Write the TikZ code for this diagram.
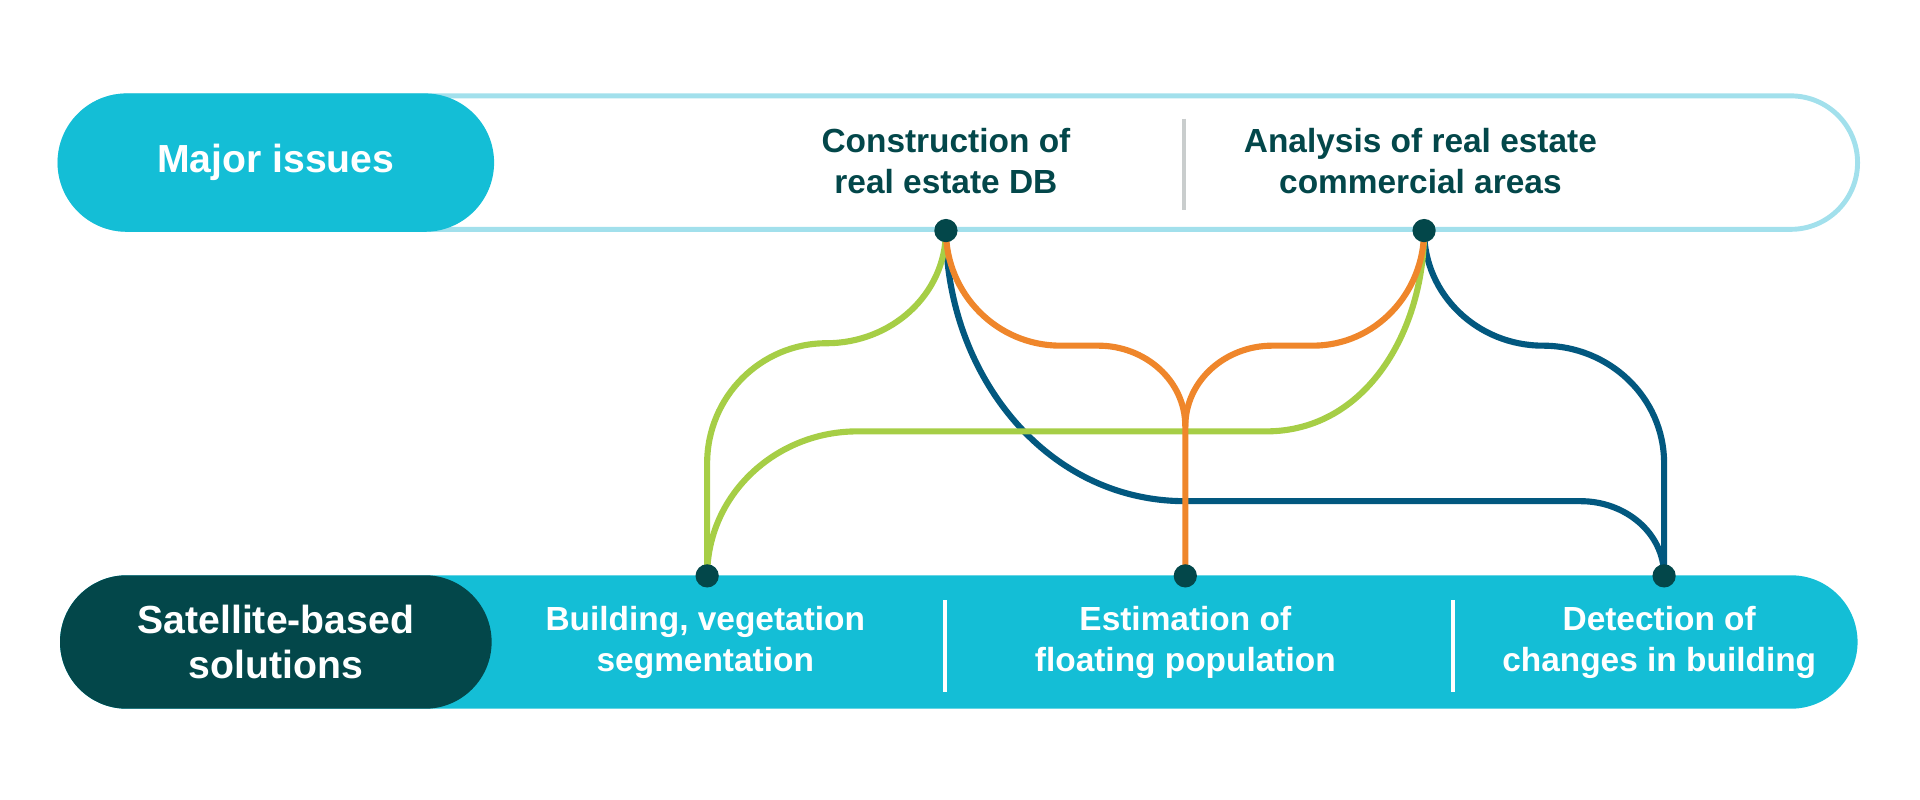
\documentclass[tikz,border=0pt]{standalone}
\usepackage{fontspec}
\setmainfont{Liberation Sans}
\usetikzlibrary{calc}
\definecolor{barcyan}{RGB}{20,190,214}
\definecolor{darkteal}{RGB}{3,71,74}
\definecolor{paleline}{RGB}{162,224,236}
\definecolor{lgreen}{RGB}{166,206,70}
\definecolor{lorange}{RGB}{239,134,43}
\definecolor{lblue}{RGB}{2,88,127}
\definecolor{divgrey}{RGB}{201,205,205}
\newcommand{\pillfont}{\fontsize{32}{36.6}\selectfont\bfseries}
\newcommand{\itemfont}{\fontsize{27.3}{33.5}\selectfont\bfseries}
\tikzset{
  bar/.style= {minimum width=1468pt, minimum height=109pt, rounded corners=54.5pt, inner sep=0},
  pill/.style= {minimum width=352.5pt, minimum height=109pt, rounded corners=54.5pt, inner sep=0,
                text=white, font=\pillfont, align=center},
  issue/.style= {text=darkteal, font=\itemfont, align=center},
  solution/.style= {text=white, font=\itemfont, align=center},
  dot/.style= {circle, fill=darkteal, minimum size=19pt, inner sep=0},
  link/.style= {line width=5pt},
  divider/.style= {line width=3pt},
}

\begin{document}
\begin{tikzpicture}[x=1pt, y=1pt]
  \useasboundingbox (0,0) rectangle (1568,653.3);
  \node [bar, draw=paleline, line width=4pt] (issuebar) at (783,520.5) {};
  \node [bar, fill=barcyan] (solbar) at (783,129) {};
  \node [pill, fill=barcyan, draw=barcyan, line width=4pt] (major) at (225.25,520.5) {Major issues};
  \node [pill, fill=darkteal] (satellite) at (225.25,129) {Satellite-based\\solutions};

  \draw [divider, divgrey] (967,556.4) -- (967,482);
  \draw [divider, white] (771.5,163) -- (771.5,88);
  \draw [divider, white] (1186.5,163) -- (1186.5,88);

  \node [issue] (dbissue) at (772.5,522) {Construction of\\real estate DB};
  \node [issue] (areaissue) at (1160,522) {Analysis of real estate\\commercial areas};
  \node [solution] (segsol) at (576,129) {Building, vegetation\\segmentation};
  \node [solution] (popsol) at (968,129) {Estimation of\\floating population};
  \node [solution] (changesol) at (1355,129) {Detection of\\changes in building};

  \coordinate (dbpt) at (772.5,465);
  \coordinate (areapt) at (1163,465);
  \coordinate (segpt) at (577.5,183);
  \coordinate (poppt) at (968,183);
  \coordinate (changept) at (1359,183);

  \draw [link, lblue] (dbpt) to[out=-90,in=180] (968,244) -- (1291,244) to[out=0,in=90] (changept);
  \draw [link, lblue] (areapt) to[out=-90,in=180] (1260,371) to[out=0,in=90] (1359,275) -- (changept);
  \draw [link, lgreen] (dbpt) to[out=-90,in=0] (675,373) to[out=180,in=90] (577.5,275) -- (segpt);
  \draw [link, lgreen] (areapt) to[out=-90,in=0] (1034,301) -- (700,301) to[out=180,in=90] (segpt);
  \draw [link, lorange] (dbpt) to[out=-90,in=180] (866,371) -- (897,371) to[out=0,in=90] (968,305) -- (poppt);
  \draw [link, lorange] (areapt) to[out=-90,in=0] (1072,371) -- (1039,371) to[out=180,in=90] (968,305);

  \node [dot] (dbdot) at (dbpt) {};
  \node [dot] (areadot) at (areapt) {};
  \node [dot] (segdot) at (segpt) {};
  \node [dot] (popdot) at (poppt) {};
  \node [dot] (changedot) at (changept) {};
\end{tikzpicture}
\end{document}
